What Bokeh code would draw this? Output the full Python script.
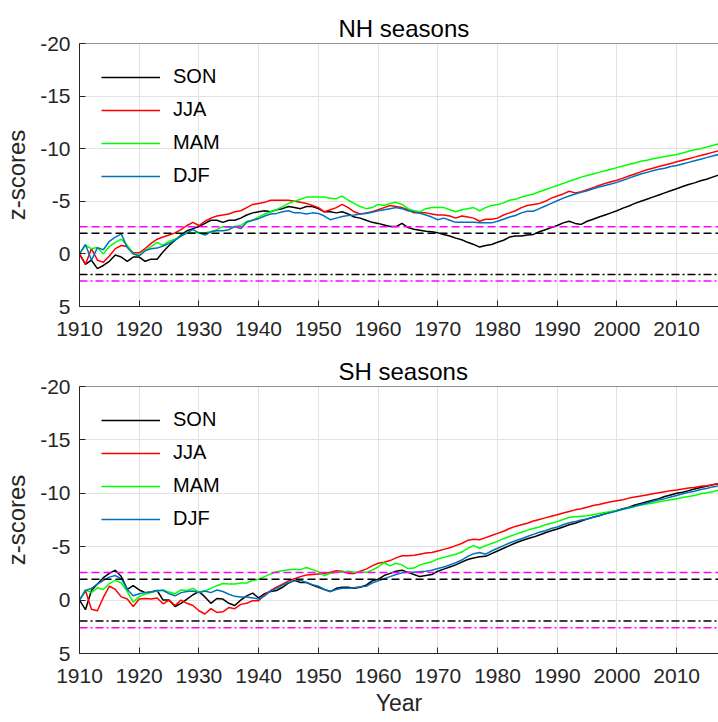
from bokeh.plotting import figure
from bokeh.layouts import column
from bokeh.models import Range1d, FixedTicker, Span
from bokeh.embed import file_html
from bokeh.resources import INLINE

# ---- data -----------------------------------------------------------------
years = list(range(1910, 2018))

x_ticks = [1910, 1920, 1930, 1940, 1950, 1960, 1970, 1980, 1990, 2000, 2010]
y_ticks = [-20, -15, -10, -5, 0, 5]
y_tick_labels = ["-20", "-15", "-10", "-5", "0", "5"]

# significance thresholds (z = 1.96 and 2.58)
sig_95 = 1.96
sig_99 = 2.58

season_names = ["SON", "JJA", "MAM", "DJF"]

nh_son = [0.0, 1.0, 0.6, 1.4, 1.1, 0.7, 0.1, 0.3, 0.7, 0.3,
          0.3, 0.7, 0.5, 0.5, -0.2, -0.8, -1.3, -1.8, -2.2, -2.4,
          -2.6, -2.9, -3.2, -3.2, -3.0, -3.2, -3.2, -3.4, -3.7, -3.9,
          -4.0, -4.1, -4.0, -4.2, -4.3, -4.5, -4.4, -4.3, -4.5, -4.5,
          -4.3, -4.0, -4.0, -3.9, -4.0, -3.8, -3.5, -3.4, -3.2, -3.0,
          -2.9, -2.75, -2.6, -2.6, -2.9, -2.5, -2.35, -2.25, -2.15, -2.1,
          -2.0, -1.85, -1.7, -1.5, -1.35, -1.1, -0.9, -0.65, -0.8, -0.9,
          -1.1, -1.3, -1.6, -1.7, -1.7, -1.8, -1.85, -2.1, -2.3, -2.5,
          -2.7, -2.95, -3.1, -2.9, -2.8, -3.1, -3.3, -3.5, -3.7, -3.9,
          -4.1, -4.35, -4.55, -4.8, -5.0, -5.2, -5.4, -5.6, -5.8, -6.0,
          -6.2, -6.4, -6.6, -6.75, -6.95, -7.1, -7.3, -7.5]

nh_jja = [0.0, 1.0, -0.5, 0.6, 0.8, 0.2, -0.5, -0.8, -0.7, -0.1,
          -0.1, -0.5, -1.0, -1.4, -1.6, -1.8, -2.0, -2.3, -2.7, -3.0,
          -2.7, -3.1, -3.4, -3.6, -3.7, -3.8, -4.0, -4.1, -4.4, -4.7,
          -4.8, -4.9, -5.1, -5.1, -5.1, -5.1, -5.0, -4.9, -4.8, -4.6,
          -4.4, -4.0, -4.2, -4.4, -4.7, -4.4, -4.0, -3.8, -3.9, -4.0,
          -4.2, -4.4, -4.6, -4.5, -4.4, -4.2, -3.9, -3.9, -3.9, -3.8,
          -3.7, -3.7, -3.6, -3.4, -3.6, -3.5, -3.4, -3.1, -3.3, -3.3,
          -3.4, -3.7, -3.9, -4.1, -4.4, -4.6, -4.7, -4.8, -5.0, -5.3,
          -5.5, -5.7, -5.95, -5.8, -5.9, -6.1, -6.3, -6.5, -6.7, -6.85,
          -7.0, -7.2, -7.4, -7.6, -7.8, -8.0, -8.15, -8.3, -8.45, -8.6,
          -8.75, -8.9, -9.05, -9.2, -9.35, -9.5, -9.65, -9.8]

nh_mam = [0.0, -0.8, -0.5, -0.6, 0.0, -0.7, -1.1, -1.4, -0.8, 0.0,
          0.1, -0.3, -0.7, -1.1, -0.8, -1.2, -1.4, -1.7, -2.0, -2.0,
          -2.0, -2.0, -2.1, -2.3, -2.6, -2.5, -2.6, -2.7, -3.1, -3.2,
          -3.5, -3.8, -4.0, -4.2, -4.5, -4.8, -5.0, -5.2, -5.4, -5.4,
          -5.4, -5.4, -5.3, -5.25, -5.5, -5.1, -4.8, -4.5, -4.3, -4.4,
          -4.7, -4.6, -4.8, -4.9, -4.7, -4.3, -4.1, -4.0, -4.3, -4.4,
          -4.4, -4.4, -4.2, -4.0, -4.2, -4.3, -4.4, -4.1, -4.4, -4.6,
          -4.7, -4.85, -5.1, -5.2, -5.4, -5.55, -5.7, -5.9, -6.1, -6.3,
          -6.5, -6.7, -6.9, -7.1, -7.3, -7.45, -7.6, -7.75, -7.9, -8.05,
          -8.2, -8.35, -8.5, -8.65, -8.8, -8.9, -9.05, -9.15, -9.25, -9.35,
          -9.45, -9.6, -9.75, -9.9, -10.0, -10.15, -10.3, -10.45]

nh_djf = [0.0, -0.9, 0.6, -0.6, -0.4, -1.2, -1.6, -1.9, -0.6, 0.0,
          0.2, -0.3, -0.5, -0.55, -0.75, -1.0, -1.3, -1.7, -2.0, -2.3,
          -2.0, -1.8, -2.1, -2.2, -2.2, -2.3, -2.6, -2.4, -3.0, -3.2,
          -3.35, -3.6, -3.8, -3.85, -4.0, -4.1, -3.9, -3.9, -3.8, -3.9,
          -3.85, -3.6, -3.25, -3.4, -3.55, -3.65, -3.7, -3.8, -3.85, -3.95,
          -4.1, -4.2, -4.3, -4.4, -4.3, -4.1, -4.0, -3.85, -3.7, -3.5,
          -3.25, -3.4, -3.2, -3.0, -3.0, -3.0, -3.0, -2.95, -2.95, -2.95,
          -3.1, -3.3, -3.5, -3.65, -3.9, -4.05, -4.05, -4.3, -4.55, -4.8,
          -5.05, -5.3, -5.5, -5.7, -5.85, -6.0, -6.2, -6.35, -6.5, -6.65,
          -6.8, -7.0, -7.2, -7.4, -7.6, -7.75, -7.9, -8.05, -8.15, -8.3,
          -8.4, -8.55, -8.7, -8.85, -9.0, -9.15, -9.3, -9.45]

sh_son = [0.0, 0.9, -0.9, -1.5, -2.1, -2.5, -2.8, -2.2, -1.0, -1.35,
          -0.95, -0.7, -0.75, -0.9, 0.0, 0.0, 0.6, 0.3, -0.1, -0.5,
          -0.8, -0.3, 0.3, -0.15, -0.1, 0.3, 0.5, 0.0, -0.4, -0.65,
          -0.2, -0.6, -0.8, -0.9, -1.2, -1.6, -1.85, -1.65, -1.65, -1.4,
          -1.2, -1.0, -0.8, -1.1, -1.2, -1.2, -1.1, -1.2, -1.4, -1.8,
          -1.95, -2.3, -2.5, -2.7, -2.8, -2.6, -2.4, -2.2, -2.3, -2.4,
          -2.7, -2.9, -3.1, -3.3, -3.55, -3.8, -3.95, -4.05, -4.1, -4.35,
          -4.6, -4.85, -5.1, -5.35, -5.55, -5.75, -5.9, -6.1, -6.3, -6.5,
          -6.65, -6.85, -7.05, -7.2, -7.4, -7.6, -7.75, -7.9, -8.1, -8.25,
          -8.4, -8.55, -8.7, -8.9, -9.05, -9.2, -9.35, -9.5, -9.7, -9.85,
          -10.0, -10.1, -10.25, -10.4, -10.55, -10.65, -10.8, -10.9]

sh_jja = [0.0, -0.9, 0.85, 1.0, -0.25, -1.3, -1.0, -0.3, -0.1, 0.6,
          -0.1, -0.15, -0.1, -0.2, 0.35, 0.0, 0.5, 0.0, 0.3, 0.5,
          1.0, 1.3, 0.8, 1.15, 1.1, 0.7, 0.8, 0.4, 0.3, 0.05,
          0.05, -0.5, -0.9, -1.2, -1.5, -1.8, -2.0, -2.2, -2.35, -2.4,
          -2.45, -2.5, -2.6, -2.75, -2.7, -2.5, -2.5, -2.7, -2.9, -3.2,
          -3.45, -3.55, -3.7, -3.95, -4.15, -4.15, -4.2, -4.3, -4.4, -4.45,
          -4.6, -4.75, -4.9, -5.1, -5.3, -5.6, -5.7, -5.65, -5.85, -6.05,
          -6.25, -6.45, -6.7, -6.9, -7.05, -7.2, -7.4, -7.55, -7.7, -7.85,
          -8.0, -8.15, -8.3, -8.45, -8.55, -8.7, -8.85, -8.95, -9.1, -9.2,
          -9.3, -9.4, -9.55, -9.65, -9.75, -9.85, -9.95, -10.05, -10.15, -10.25,
          -10.3, -10.4, -10.5, -10.55, -10.65, -10.7, -10.8, -10.9]

sh_mam = [0.0, -0.95, -0.7, -1.15, -1.0, -1.55, -1.85, -1.6, -0.8, 0.2,
          -0.35, -0.55, -0.7, -0.85, -0.95, -0.75, -0.6, -0.95, -0.9, -1.1,
          -0.75, -0.85, -1.1, -1.35, -1.55, -1.5, -1.5, -1.6, -1.6, -1.85,
          -1.95, -2.2, -2.45, -2.65, -2.75, -2.85, -2.9, -2.85, -3.05, -2.85,
          -2.65, -2.3, -2.5, -2.6, -2.6, -2.7, -2.6, -2.6, -2.6, -2.8,
          -3.1, -3.5, -3.2, -3.45, -3.3, -2.95, -3.0, -3.3, -3.45, -3.6,
          -3.85, -4.0, -4.15, -4.3, -4.5, -4.85, -5.1, -4.85, -5.1, -5.3,
          -5.5, -5.75, -5.95, -6.15, -6.35, -6.55, -6.7, -6.85, -7.05, -7.2,
          -7.35, -7.55, -7.75, -7.8, -7.85, -7.9, -8.0, -8.1, -8.2, -8.3,
          -8.4, -8.5, -8.65, -8.75, -8.9, -9.0, -9.1, -9.2, -9.3, -9.4,
          -9.5, -9.6, -9.7, -9.8, -9.95, -10.05, -10.15, -10.3]

sh_djf = [0.0, -0.9, -1.1, -1.5, -1.85, -2.15, -2.3, -2.0, -1.0, -0.4,
          -0.6, -0.7, -0.75, -0.9, -0.9, -0.6, -0.4, -0.7, -0.8, -0.85,
          -0.7, -0.85, -0.7, -0.95, -0.8, -0.55, -0.35, -0.3, -0.3, -0.2,
          -0.1, -0.4, -0.85, -1.1, -1.4, -1.65, -1.8, -1.85, -1.65, -1.45,
          -1.3, -1.0, -0.8, -1.0, -1.1, -1.1, -1.15, -1.25, -1.3, -1.6,
          -1.8, -2.0, -2.2, -2.4, -2.55, -2.6, -2.6, -2.65, -2.7, -2.8,
          -2.95, -3.1, -3.3, -3.5, -3.75, -4.1, -4.35, -4.45, -4.3, -4.6,
          -4.85, -5.1, -5.35, -5.55, -5.75, -5.95, -6.15, -6.35, -6.5, -6.7,
          -6.85, -7.05, -7.25, -7.35, -7.5, -7.6, -7.75, -7.9, -8.05, -8.2,
          -8.35, -8.5, -8.65, -8.8, -8.95, -9.1, -9.25, -9.4, -9.5, -9.65,
          -9.8, -9.95, -10.1, -10.2, -10.35, -10.45, -10.6, -10.7]

# ---- styling --------------------------------------------------------------
FONT = "Liberation Sans"
AXIS_COLOR = "#262626"
GRID_COLOR = "#e2e2e2"
season_colors = {"SON": "#000000", "JJA": "#ff0000", "MAM": "#00ff00", "DJF": "#0072bd"}


def make_panel(title_text, series, frame_h, border_top, border_bottom, xlabel):
    p = figure(
        frame_width=639, frame_height=frame_h,
        x_range=Range1d(1910, 2017), y_range=Range1d(5, -20),
        output_backend="svg", toolbar_location=None,
        min_border_left=79, min_border_right=0,
        min_border_top=border_top, min_border_bottom=border_bottom,
        background_fill_color="white", border_fill_color="white",
        outline_line_color=None,
    )
    p.title.text = title_text
    p.title.text_font = FONT
    p.title.text_font_size = "24px"
    p.title.text_font_style = "normal"
    p.title.text_color = "#000000"
    p.title.align = "left"
    p.title.offset = 259
    p.title.standoff = 3

    for name, vals in zip(season_names, series):
        p.line(years, vals, line_color=season_colors[name], line_width=1.5,
               legend_label=name)

    # significance levels: dashed above, dash-dot below
    p.add_layout(Span(location=-sig_99, dimension="width", line_color="#ff00ff",
                      line_width=1.5, line_dash="8 4"))
    p.add_layout(Span(location=-sig_95, dimension="width", line_color="#000000",
                      line_width=1.5, line_dash="8 4"))
    p.add_layout(Span(location=sig_95, dimension="width", line_color="#000000",
                      line_width=1.5, line_dash="8 3 2 3"))
    p.add_layout(Span(location=sig_99, dimension="width", line_color="#ff00ff",
                      line_width=1.5, line_dash="8 3 2 3"))
    # top edge of the axes box
    p.add_layout(Span(location=-20, dimension="width", line_color=AXIS_COLOR,
                      line_width=1))

    xt = FixedTicker(ticks=x_ticks)
    yt = FixedTicker(ticks=y_ticks)
    p.xaxis.ticker = xt
    p.yaxis.ticker = yt
    p.xgrid.ticker = xt
    p.ygrid.ticker = yt
    p.xaxis.major_label_overrides = {t: str(t) for t in x_ticks}
    p.yaxis.major_label_overrides = dict(zip(y_ticks, y_tick_labels))
    p.grid.grid_line_color = GRID_COLOR
    p.grid.grid_line_width = 1

    for ax in (p.xaxis[0], p.yaxis[0]):
        ax.axis_line_color = AXIS_COLOR
        ax.major_tick_line_color = AXIS_COLOR
        ax.major_tick_in = 6
        ax.major_tick_out = 0
        ax.minor_tick_line_color = None
        ax.major_label_text_font = FONT
        ax.major_label_text_font_size = "21px"
        ax.major_label_text_color = AXIS_COLOR
        ax.axis_label_text_font = FONT
        ax.axis_label_text_font_size = "24px"
        ax.axis_label_text_font_style = "normal"
        ax.axis_label_text_color = AXIS_COLOR

    p.xaxis.major_label_standoff = 15
    p.yaxis.major_label_standoff = 9
    p.yaxis.axis_label = "z-scores"
    p.yaxis.axis_label_standoff = 7
    if xlabel:
        p.xaxis.axis_label = xlabel
        p.xaxis.axis_label_text_font_size = "23px"
        p.xaxis.axis_label_standoff = 4

    # legend without border: padding collapses, so the margin sets the inset
    lg = p.legend[0]
    lg.location = "top_left"
    lg.border_line_color = None
    lg.background_fill_alpha = 0
    lg.label_text_font = FONT
    lg.label_text_font_size = "20px"
    lg.label_text_color = "#000000"
    lg.glyph_width = 59
    lg.glyph_height = 22
    lg.label_height = 22
    lg.label_standoff = 13
    lg.spacing = 10
    lg.margin = 22
    lg.padding = 0
    return p


top = make_panel("NH seasons", [nh_son, nh_jja, nh_mam, nh_djf], 263, 43, 45, None)
bottom = make_panel("SH seasons", [sh_son, sh_jja, sh_mam, sh_djf], 267, 35, 69, "Year")

layout = column(top, bottom, spacing=0)
open("out.html", "w").write(file_html(layout, INLINE))
